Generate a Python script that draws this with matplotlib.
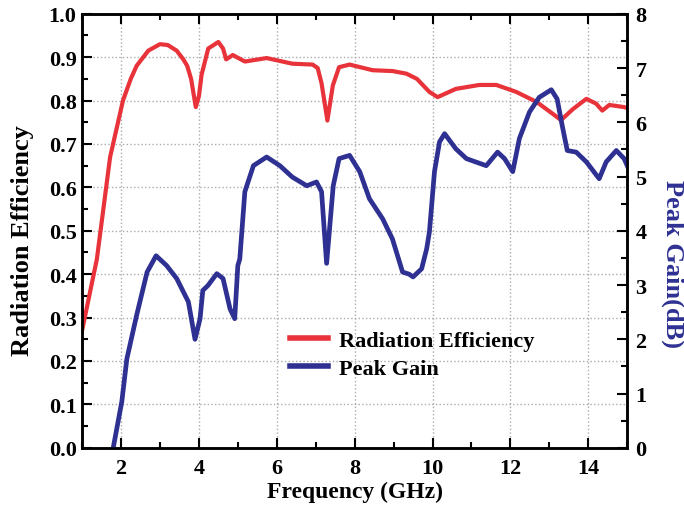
import numpy as np
import matplotlib
matplotlib.use("Agg")
from matplotlib import pyplot as plt
from matplotlib.ticker import MultipleLocator

# Radiation efficiency (left axis)
eff_freq = [1.0, 1.38, 1.72, 2.05, 2.25, 2.4, 2.7, 3.0, 3.2, 3.43, 3.6, 3.7, 3.8, 3.92,
            4.0, 4.07, 4.24, 4.5, 4.62, 4.7, 4.87, 5.18, 5.74, 6.4, 6.92, 7.05, 7.15,
            7.3, 7.44, 7.6, 7.87, 8.46, 8.98, 9.33, 9.6, 9.92, 10.13, 10.6, 11.2,
            11.64, 12.15, 12.67, 13.08, 13.3, 13.6, 13.95, 14.2, 14.36, 14.54, 14.92, 15.0]
eff_vals = [0.27, 0.435, 0.67, 0.80, 0.85, 0.88, 0.915, 0.93, 0.928, 0.915, 0.895, 0.88, 0.85, 0.785,
            0.81, 0.86, 0.92, 0.935, 0.92, 0.895, 0.905, 0.89, 0.898, 0.885, 0.883, 0.875, 0.84,
            0.754, 0.835, 0.877, 0.883, 0.87, 0.868, 0.862, 0.85, 0.82, 0.808, 0.827, 0.836,
            0.836, 0.82, 0.797, 0.77, 0.755, 0.78, 0.804, 0.793, 0.777, 0.79, 0.785, 0.783]

# Peak gain in dB (right axis)
gain_freq = [1.8, 2.02, 2.15, 2.4, 2.67, 2.9, 3.17, 3.43, 3.73, 3.9, 4.03, 4.1,
             4.23, 4.46, 4.62, 4.8, 4.92, 5.0, 5.05, 5.18, 5.4, 5.74, 6.08, 6.4,
             6.77, 7.02, 7.15, 7.28, 7.45, 7.6, 7.87, 8.13, 8.38, 8.72, 8.97, 9.23,
             9.4, 9.5, 9.72, 9.85, 9.92, 10.05, 10.18, 10.31, 10.6, 10.87, 11.38,
             11.67, 11.85, 12.06, 12.23, 12.49, 12.74, 13.05, 13.2, 13.33, 13.46,
             13.69, 13.95, 14.28, 14.46, 14.72, 14.92, 15.0]
gain_vals = [0.0, 0.85, 1.64, 2.44, 3.24, 3.54, 3.36, 3.12, 2.69, 2.0, 2.38, 2.9,
             2.99, 3.21, 3.12, 2.56, 2.38, 3.36, 3.48, 4.72, 5.2, 5.36, 5.2, 4.99,
             4.83, 4.9, 4.72, 3.4, 4.83, 5.33, 5.39, 5.09, 4.59, 4.22, 3.85, 3.24,
             3.2, 3.15, 3.3, 3.67, 3.98, 5.09, 5.64, 5.79, 5.51, 5.33, 5.2,
             5.45, 5.33, 5.09, 5.7, 6.19, 6.46, 6.6, 6.43, 5.94, 5.48,
             5.45, 5.27, 4.96, 5.27, 5.48, 5.33, 5.2]

red = '#e8333a'
blue = '#2e3192'
font = ['Liberation Serif', 'DejaVu Serif']

plt.rcParams['font.family'] = font
plt.rcParams['font.weight'] = 'bold'

fig = plt.figure(figsize=(6.84, 5.1), dpi=100)
ax = fig.add_axes([0.12, 0.12, 0.797, 0.851])
ax2 = ax.twinx()

l1, = ax.plot(eff_freq, eff_vals, color=red, lw=3, label='Radiation Efficiency')
l2, = ax2.plot(gain_freq, gain_vals, color=blue, lw=3.4, label='Peak Gain')

ax.set_xlim(1, 15)
ax.set_ylim(0, 1.0)
ax2.set_ylim(0, 8)

ax.xaxis.set_major_locator(MultipleLocator(2))
ax.xaxis.set_minor_locator(MultipleLocator(1))
ax.yaxis.set_major_locator(MultipleLocator(0.1))
ax.yaxis.set_minor_locator(MultipleLocator(0.05))
ax2.yaxis.set_major_locator(MultipleLocator(1))
ax2.yaxis.set_minor_locator(MultipleLocator(0.5))
ax.yaxis.set_major_formatter(plt.FormatStrFormatter('%.1f'))

ax.grid(True, which='major', color='#aaaaaa', ls=':', lw=1)

ax.tick_params(axis='x', which='both', direction='in', top=True, labelsize=16, pad=7)
ax.tick_params(axis='y', which='both', direction='in', right=False, labelsize=16, pad=4)
ax.tick_params(which='major', length=7, width=1.5)
ax.tick_params(which='minor', length=4, width=1.5)
ax2.tick_params(axis='y', which='both', direction='in', labelsize=16, pad=6)
ax2.tick_params(which='major', length=7, width=1.5)
ax2.tick_params(which='minor', length=4, width=1.5)

for a in (ax, ax2):
    for s in a.spines.values():
        s.set_linewidth(1.8)
    for lab in a.get_xticklabels() + a.get_yticklabels():
        lab.set_fontweight('bold')

ax.set_xlabel('Frequency (GHz)', fontsize=17, fontweight='bold')
ax.xaxis.set_label_coords(0.5, -0.075)
ax.set_ylabel('Radiation Efficiency', fontsize=19, fontweight='bold',
              va='center', ha='center')
ax.yaxis.set_label_coords(-0.11, 0.48)
ax2.set_ylabel('Peak Gain(dB)', fontsize=19, fontweight='bold', color=blue,
               rotation=270, va='center', ha='center')
ax2.yaxis.set_label_coords(1.083, 0.425)

leg = ax.legend([l1, l2], ['Radiation Efficiency', 'Peak Gain'], loc='center left',
                bbox_to_anchor=(0.345, 0.215), frameon=False, handlelength=1.7,
                handletextpad=0.5, labelspacing=0.35,
                prop={'family': font, 'weight': 'bold', 'size': 16})
for h in leg.legend_handles:
    h.set_linewidth(4)

fig.savefig('out.png', dpi=100)
